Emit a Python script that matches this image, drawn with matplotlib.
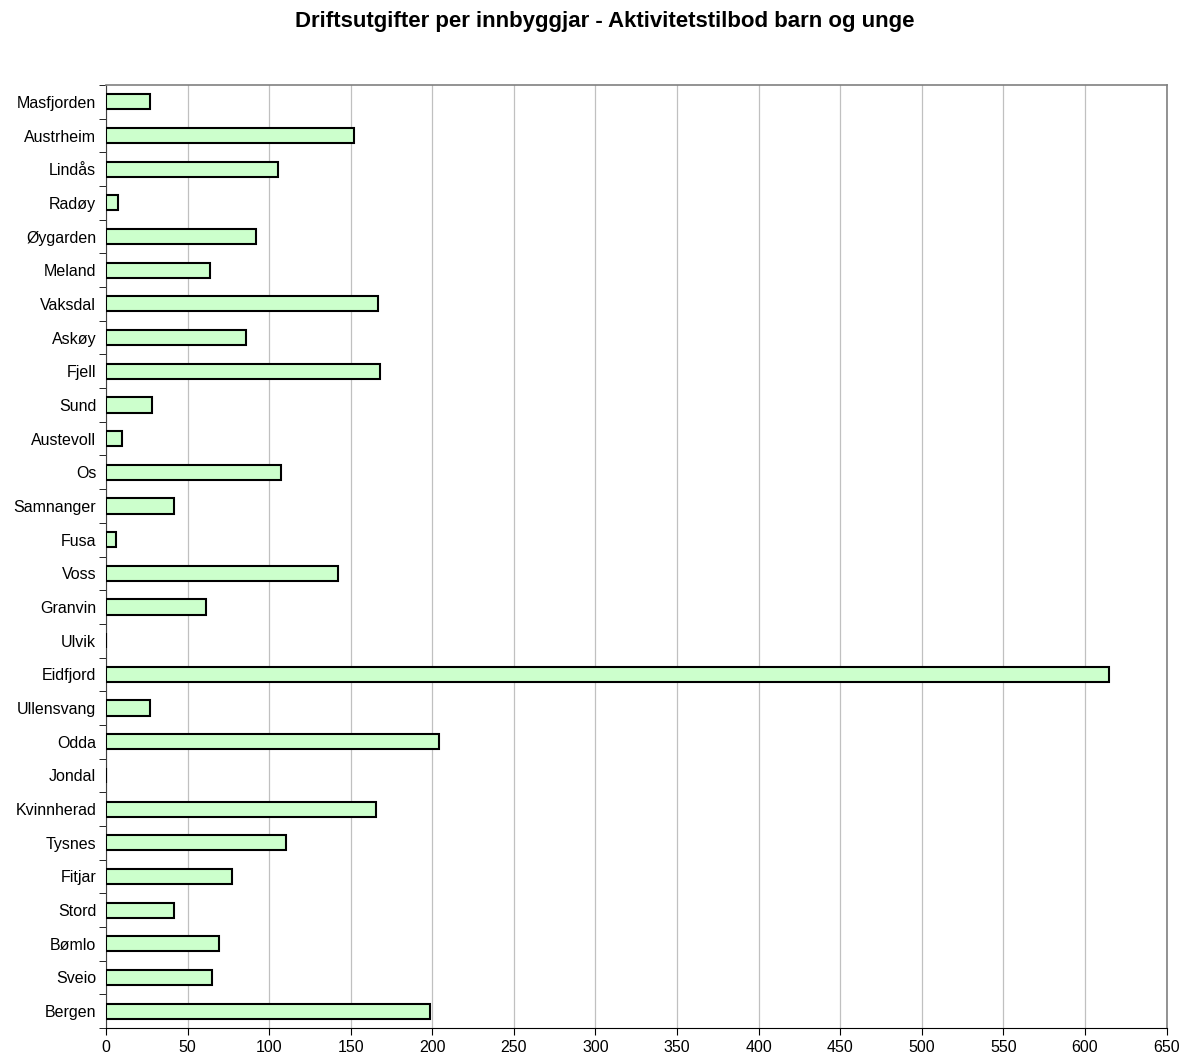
import numpy as np
import matplotlib.pyplot as plt
from matplotlib.ticker import MultipleLocator

plt.rcParams['font.family'] = ['Liberation Sans', 'DejaVu Sans']

# kommunar, ovanfrå og ned
kommunar = ["Masfjorden", "Austrheim", "Lindås", "Radøy", "Øygarden", "Meland",
            "Vaksdal", "Askøy", "Fjell", "Sund", "Austevoll", "Os", "Samnanger",
            "Fusa", "Voss", "Granvin", "Ulvik", "Eidfjord", "Ullensvang", "Odda",
            "Jondal", "Kvinnherad", "Tysnes", "Fitjar", "Stord", "Bømlo", "Sveio",
            "Bergen"]
utgifter = [27, 152, 105.5, 7.5, 92, 64, 167, 86, 168, 28.5, 10, 107, 41.5,
            6, 142.5, 61.5, 0, 614.5, 27, 204, 0, 165.5, 110.5, 77.5, 41.5,
            69, 65, 198.5]

fig = plt.figure(figsize=(11.88, 10.6), dpi=100)
ax = fig.add_axes([0.0892, 0.0302, 0.8928, 0.8896])

y = np.arange(len(kommunar))
ax.barh(y, utgifter, height=0.45, color='#ccffcc', edgecolor='black',
        linewidth=1.5, zorder=3)

ax.set_xlim(0, 650)
ax.set_ylim(len(kommunar) - 0.5, -0.5)
ax.xaxis.set_major_locator(MultipleLocator(50))
ax.set_yticks(y)
ax.set_yticklabels(kommunar, fontsize=11.5)
ax.set_yticks(np.arange(-0.5, len(kommunar)), minor=True)
ax.tick_params(axis='y', which='major', length=0, pad=7)
ax.tick_params(axis='y', which='minor', length=5, direction='out', color='black')
ax.tick_params(axis='x', length=5, direction='out', labelsize=11.5)

ax.grid(axis='x', color='#c0c0c0', linewidth=0.9, zorder=0)
ax.set_axisbelow(True)
for side in ['top', 'right']:
    ax.spines[side].set_color('#808080')
    ax.spines[side].set_linewidth(1.2)
ax.spines['left'].set_color('#404040')
ax.spines['bottom'].set_color('black')

fig.suptitle("Driftsutgifter per innbyggjar - Aktivitetstilbod barn og unge",
             fontsize=16, fontweight='bold', x=0.509, y=0.99)

fig.savefig("out.png", dpi=100)
